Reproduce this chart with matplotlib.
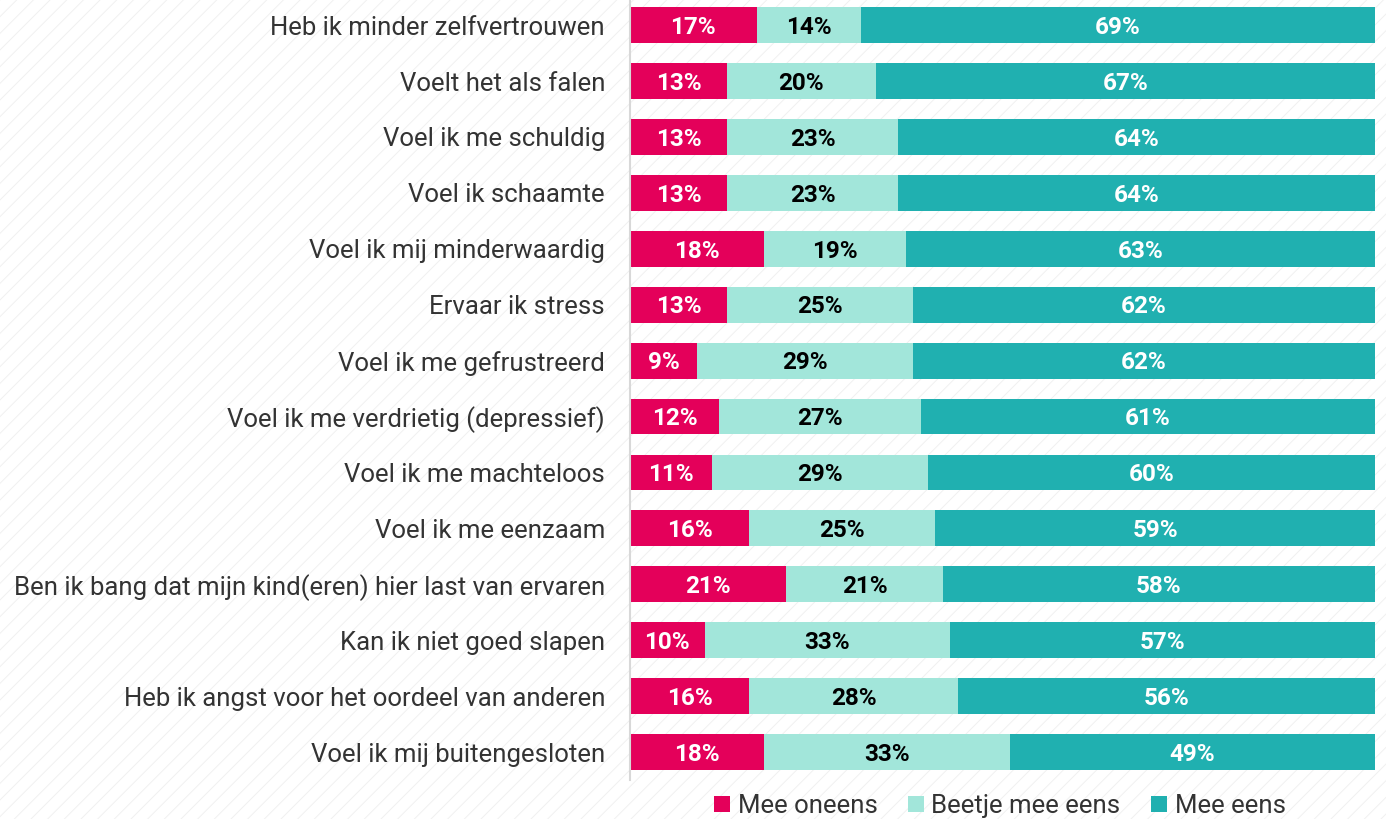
import numpy as np
import matplotlib.pyplot as plt
from matplotlib.patches import Rectangle, Patch

labels = [
    "Heb ik minder zelfvertrouwen",
    "Voelt het als falen",
    "Voel ik me schuldig",
    "Voel ik schaamte",
    "Voel ik mij minderwaardig",
    "Ervaar ik stress",
    "Voel ik me gefrustreerd",
    "Voel ik me verdrietig (depressief)",
    "Voel ik me machteloos",
    "Voel ik me eenzaam",
    "Ben ik bang dat mijn kind(eren) hier last van ervaren",
    "Kan ik niet goed slapen",
    "Heb ik angst voor het oordeel van anderen",
    "Voel ik mij buitengesloten",
]
mee_oneens = [17, 13, 13, 13, 18, 13, 9, 12, 11, 16, 21, 10, 16, 18]
beetje = [14, 20, 23, 23, 19, 25, 29, 27, 29, 25, 21, 33, 28, 33]
mee_eens = [69, 67, 64, 64, 63, 62, 62, 61, 60, 59, 58, 57, 56, 49]
series = ["Mee oneens", "Beetje mee eens", "Mee eens"]
colors = ["#e4005a", "#a2e6da", "#20b0b0"]
text_colors = ["white", "black", "white"]

plt.rcParams["font.family"] = ["Roboto", "DejaVu Sans"]
plt.rcParams["hatch.color"] = "#f0f0f0"
plt.rcParams["hatch.linewidth"] = 0.7

fig = plt.figure(figsize=(13.86, 8.19), dpi=100)
fig.patch.set_facecolor("white")
# faint diagonal background pattern
fig.patches.append(Rectangle((0, 0), 1, 1, transform=fig.transFigure, facecolor="white",
                             edgecolor="#f0f0f0", hatch="//", linewidth=0, zorder=-10))

ax = fig.add_axes([630 / 1386, 1 - 780 / 819, 745 / 1386, 780 / 819])
ax.patch.set_alpha(0)

y = np.arange(len(labels))
left = np.zeros(len(labels))
for vals, name, col, tcol in zip([mee_oneens, beetje, mee_eens], series, colors, text_colors):
    vals = np.array(vals, dtype=float)
    ax.barh(y, vals, left=left, height=0.64, color=col, label=name)
    for yi, (l, v) in enumerate(zip(left, vals)):
        ax.text(l + v / 2, yi + 0.04, f"{int(v)}%", ha="center", va="center",
                color=tcol, fontsize=17.5, fontweight="bold")
    left += vals

ax.set_xlim(0, 100)
ax.set_ylim(13.5, -0.45)
ax.set_yticks(y)
ax.set_yticklabels(labels, fontsize=18.5, color="#333333")
ax.tick_params(axis="y", length=0, pad=18)
ax.set_xticks([])
for s in ["top", "right", "bottom"]:
    ax.spines[s].set_visible(False)
ax.spines["left"].set_color("#d8d8d8")
ax.spines["left"].set_linewidth(1.5)

handles = [Patch(facecolor=c, label=n) for c, n in zip(colors, series)]
fig.legend(handles=handles, loc="center", bbox_to_anchor=(1000 / 1386, 1 - 806 / 819),
           ncol=3, frameon=False, fontsize=18.5, handlelength=0.6, handleheight=0.6,
           handletextpad=0.3, columnspacing=1.2, labelcolor="#333333")

fig.savefig("out.png", dpi=100)
